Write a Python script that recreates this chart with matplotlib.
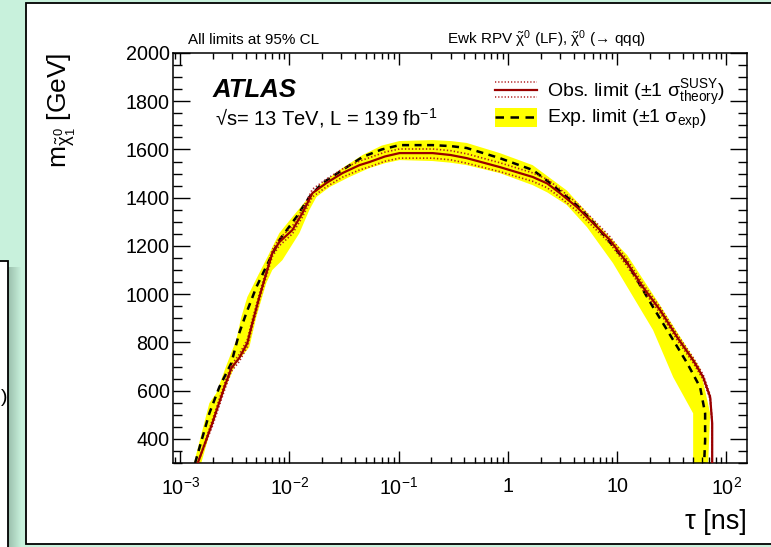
import numpy as np
import matplotlib
matplotlib.use("Agg")
import matplotlib.pyplot as plt
from matplotlib.patches import Rectangle
from matplotlib.lines import Line2D
from matplotlib.ticker import FixedLocator, FixedFormatter, MultipleLocator, LogLocator, NullFormatter

plt.rcParams['font.family'] = ['Liberation Sans', 'DejaVu Sans']
plt.rcParams['mathtext.fontset'] = 'custom'
plt.rcParams['mathtext.rm'] = 'Liberation Sans'
plt.rcParams['mathtext.it'] = 'Liberation Sans:italic'
plt.rcParams['mathtext.bf'] = 'Liberation Sans:bold'
plt.rcParams['mathtext.sf'] = 'Liberation Sans'

# ---------------- data ----------------
obs_tau = [1.45e-3, 1.97e-3, 2.54e-3, 2.94e-3, 3.47e-3, 4.12e-3, 4.58e-3, 5.31e-3, 6.15e-3,
           6.98e-3, 8.09e-3, 0.01066, 0.01316, 0.01625, 0.02183, 0.0306, 0.0438, 0.0542,
           0.075, 0.102, 0.205, 0.30, 0.421, 0.845, 1.69, 2.3, 3.0, 4.30, 6.03, 8.63, 12.4,
           17.3, 24.8, 35.5, 49.8, 61.5, 71.3, 74.4, 74.4]
obs_mass = [300, 465, 614, 693, 735, 797, 880, 988, 1087, 1170, 1216, 1266, 1336, 1419,
            1461, 1502, 1535, 1548, 1571, 1585, 1585, 1577, 1564, 1527, 1486, 1459, 1419,
            1361, 1295, 1224, 1129, 1029, 934, 822, 726, 656, 573, 465, 300]
obs_up_mass = [300, 478, 628, 706, 750, 812, 895, 1002, 1101, 1184, 1231, 1282, 1352, 1435,
               1477, 1519, 1552, 1566, 1589, 1602, 1602, 1595, 1582, 1545, 1503, 1476, 1436,
               1377, 1310, 1238, 1143, 1042, 946, 834, 737, 666, 582, 470, 300]
obs_dn_mass = [300, 452, 600, 680, 720, 782, 865, 974, 1073, 1156, 1201, 1250, 1320, 1403,
               1445, 1485, 1515, 1528, 1551, 1564, 1564, 1557, 1543, 1508, 1468, 1441, 1402,
               1345, 1280, 1210, 1115, 1016, 922, 810, 715, 646, 564, 460, 300]

exp_tau = [1.37e-3, 1.85e-3, 2.28e-3, 2.94e-3, 3.47e-3, 4.03e-3, 4.98e-3, 6.56e-3, 8.09e-3,
           0.0116, 0.01524, 0.0201, 0.0306, 0.0468, 0.070, 0.102, 0.205, 0.30, 0.421, 0.845,
           1.69, 2.3, 3.0, 4.3, 6.03, 12.4, 21.4, 28.8, 43.9, 57.7, 64.1, 64.1, 62.8]
exp_mass = [300, 506, 614, 714, 838, 921, 1029, 1141, 1224, 1320, 1403, 1461, 1515, 1569,
            1600, 1618, 1618, 1614, 1606, 1564, 1515, 1470, 1427, 1368, 1299, 1129, 946, 851,
            714, 614, 506, 394, 300]

band_hi_tau = [1.34e-3, 1.85e-3, 2.14e-3, 2.70e-3, 3.26e-3, 3.63e-3, 4.12e-3, 5.08e-3,
               6.56e-3, 8.09e-3, 0.01066, 0.01432, 0.01884, 0.0306, 0.0468, 0.070, 0.102,
               0.205, 0.30, 0.421, 0.845, 1.69, 2.3, 3.47, 7.45, 12.4, 24.8, 57.7, 71.3, 68.4]
band_hi_mass = [300, 548, 589, 714, 809, 905, 988, 1071, 1170, 1253, 1320, 1390, 1452, 1523,
                1577, 1616, 1635, 1639, 1635, 1627, 1585, 1535, 1490, 1430, 1266, 1162, 954,
                693, 506, 300]
band_lo_tau = [1.56e-3, 2.05e-3, 2.70e-3, 3.26e-3, 4.30e-3, 4.98e-3, 6.15e-3, 6.98e-3,
               8.63e-3, 0.01236, 0.01524, 0.0177, 0.0233, 0.0355, 0.0542, 0.075, 0.102,
               0.205, 0.30, 0.421, 0.845, 1.69, 2.3, 3.47, 5.31, 9.18, 21.4, 32.7, 49.8, 49.8]
band_lo_mass = [300, 490, 631, 714, 780, 905, 1046, 1100, 1141, 1253, 1349, 1403, 1444, 1486,
                1523, 1543, 1556, 1552, 1545, 1535, 1502, 1452, 1422, 1370, 1278, 1129, 851,
                656, 506, 300]

xtick_values = [1e-3, 1e-2, 1e-1, 1, 10, 100]
xtick_labels = [r"$10^{-3}$", r"$10^{-2}$", r"$10^{-1}$", "1", "10", r"$10^{2}$"]
ytick_values = [400, 600, 800, 1000, 1200, 1400, 1600, 1800, 2000]

# ---------------- figure ----------------
W, H = 771, 547
GREEN = '#c8f1dc'
fig = plt.figure(figsize=(W / 100, H / 100), dpi=100, facecolor=GREEN)


def fx(px):
    return px / W


def fy(py):
    return 1 - py / H


# background decoration (screenshot panels)
for k in range(13):
    a = 0.55 * (1 - k / 13)
    fig.patches.append(Rectangle((fx(8 + k), fy(547)), fx(1.05), fy(267) - fy(547),
                                 transform=fig.transFigure, facecolor='#3f5a4c',
                                 alpha=a * 0.6, edgecolor='none', zorder=-12))
fig.patches.append(Rectangle((fx(-20), fy(560)), fx(28), fy(261) - fy(560),
                             transform=fig.transFigure, facecolor='white',
                             edgecolor='black', lw=1.3, zorder=-11))
fig.text(fx(0.5), fy(398), ")", fontsize=14, ha='left', va='center')
fig.patches.append(Rectangle((fx(26), fy(544)), fx(800) - fx(26), fy(3) - fy(544),
                             transform=fig.transFigure, facecolor='white',
                             edgecolor='black', lw=1.3, zorder=-10))

ax = fig.add_axes([fx(173), fy(463), fx(747) - fx(173), fy(53) - fy(463)])
ax.set_xscale('log')
ax.set_xlim(8.6e-4, 155)
ax.set_ylim(300, 2000)

# band
ax.fill(np.concatenate([band_hi_tau, band_lo_tau[::-1]]),
        np.concatenate([band_hi_mass, band_lo_mass[::-1]]),
        color='#ffff00', lw=0, zorder=1)
OBS_C = '#990000'
ax.plot(exp_tau, exp_mass, color='black', lw=1.8, ls=(0, (2.8, 2.2)), zorder=3)
ax.plot(obs_tau, obs_up_mass, color='#b01c1c', lw=1.2, ls=(0, (0.8, 1.3)), zorder=4)
ax.plot(obs_tau, obs_dn_mass, color='#b01c1c', lw=1.2, ls=(0, (0.8, 1.3)), zorder=4)
ax.plot(obs_tau, obs_mass, color=OBS_C, lw=1.6, zorder=5)

# ticks
ax.xaxis.set_major_locator(FixedLocator(xtick_values))
ax.xaxis.set_major_formatter(FixedFormatter(xtick_labels))
ax.xaxis.set_minor_locator(LogLocator(base=10, subs=np.arange(2, 10), numticks=30))
ax.xaxis.set_minor_formatter(NullFormatter())
ax.yaxis.set_major_locator(FixedLocator(ytick_values))
ax.yaxis.set_minor_locator(MultipleLocator(50))
ax.tick_params(axis='y', which='major', direction='in', length=12.2, width=1.0,
               left=True, right=True, labelsize=14.2, pad=2.5)
ax.tick_params(axis='y', which='minor', direction='in', length=6.2, width=1.0,
               left=True, right=True)
ax.tick_params(axis='x', which='major', direction='in', length=8.9, width=1.0,
               bottom=True, top=True, labelsize=14.2, pad=10)
ax.tick_params(axis='x', which='minor', direction='in', length=4.4, width=1.0,
               bottom=True, top=True)
for s in ax.spines.values():
    s.set_linewidth(1.1)

ax.set_ylabel(r"m$_{\tilde{\mathrm{\chi}}^{0}_{1}}$ [GeV]", fontsize=19,
              rotation=90, rotation_mode='anchor', ha='right', va='center')
ax.yaxis.set_label_coords((62 - 173) / 574, 1.0)
ax.set_xlabel("τ [ns]", fontsize=19.5, ha='right', va='center')
ax.xaxis.set_label_coords(1.0, (463 - 522) / 410)

# texts
fig.text(fx(188), fy(44), "All limits at 95% CL", fontsize=11, va='baseline')
fig.text(fx(447), fy(44),
         r"Ewk RPV $\tilde{\mathrm{\chi}}^{0}$ (LF), $\tilde{\mathrm{\chi}}^{0}$ (→ qqq)",
         fontsize=11, va='baseline')
fig.text(fx(213), fy(97), "ATLAS", fontsize=18.5, weight='bold', style='italic',
         va='baseline')
fig.text(fx(215), fy(125), r"√s= 13 TeV, L = 139 fb$^{-1}$", fontsize=14.5, va='baseline')

# legend (drawn by hand, ROOT style)
fig.lines.append(Line2D([fx(495), fx(537)], [fy(90)] * 2, transform=fig.transFigure,
                        color=OBS_C, lw=1.6))
for yy in (82, 97):
    fig.lines.append(Line2D([fx(495), fx(537)], [fy(yy)] * 2, transform=fig.transFigure,
                            color='#b01c1c', lw=1.1, ls=(0, (0.8, 1.3))))
fig.patches.append(Rectangle((fx(495), fy(127)), fx(42), fy(108) - fy(127),
                             transform=fig.transFigure, facecolor='#ffff00',
                             edgecolor='none'))
fig.lines.append(Line2D([fx(495), fx(537)], [fy(117)] * 2, transform=fig.transFigure,
                        color='black', lw=1.8, ls=(0, (3.4, 2.6))))
fig.text(fx(547), fy(97),
         r"Obs. limit (±1 $\mathrm{\sigma}^{\mathrm{SUSY}}_{\mathrm{theory}}$)",
         fontsize=14, va='baseline')
fig.text(fx(547), fy(123), r"Exp. limit (±1 $\mathrm{\sigma}_{\mathrm{exp}}$)",
         fontsize=14, va='baseline')

fig.savefig("out.png", dpi=100, facecolor=GREEN)
